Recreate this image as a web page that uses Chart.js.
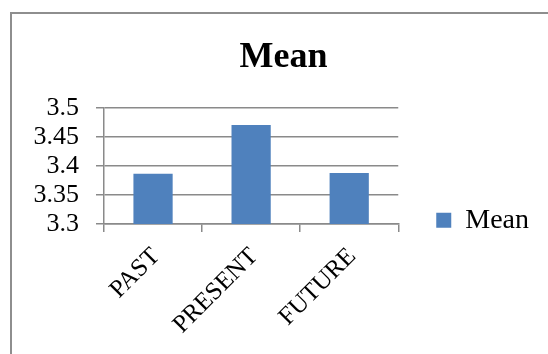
<!DOCTYPE html>
<html lang="en">
<head>
<meta charset="utf-8">
<title>Mean</title>
<script src="https://cdn.jsdelivr.net/npm/chart.js@4.4.1/dist/chart.umd.min.js"></script>
<style>
    html, body {
        margin: 0;
        padding: 0;
        width: 548px;
        height: 354px;
        overflow: hidden;
        background: #ffffff;
    }
    .chart-frame {
        position: absolute;
        left: 10px;
        top: 12px;
        width: 620px;
        height: 420px;
        border: 2px solid #8e8e8e;
    }
    .chart-box {
        position: absolute;
        left: 0;
        top: 0;
        width: 548px;
        height: 354px;
    }
</style>
</head>
<body>
<div class="chart-frame"></div>
<div class="chart-box">
    <canvas id="meanChart"></canvas>
</div>

<script>
// Data
const categories = ['PAST', 'PRESENT', 'FUTURE'];
const meanValues = [3.387, 3.471, 3.388];
const seriesName = 'Mean';
const yTickValues = [3.3, 3.35, 3.4, 3.45, 3.5];
const yTickLabels = ['3.3', '3.35', '3.4', '3.45', '3.5'];

const SERIF = "'Liberation Serif', 'Times New Roman', serif";
const BAR_BLUE = '#4f81bd';
const GRID_GREY = '#8a8a8a';

/**
 * The title sits over the plot + legend block, not over the whole canvas:
 * move it right a little once the layout is done.
 */
const titleShift = {
    id: 'titleShift',
    afterLayout(chart, args, opts) {
        const title = chart.titleBlock;
        if (!title) return;
        title.left += opts.dx;
        title.right += opts.dx;
    }
};

/**
 * Bar chart of the mean score per time period
 */
class MeanChart {
    constructor() {
        this.chart = null;
        this.init();
    }

    /**
     * Label of a y tick, taken from the tick label list
     */
    yLabel(value) {
        const i = yTickValues.findIndex(v => Math.abs(v - value) < 1e-6);
        return i >= 0 ? yTickLabels[i] : '';
    }

    init() {
        const chartElement = document.getElementById('meanChart');
        if (!chartElement) return;

        this.chart = new Chart(chartElement, {
            type: 'bar',
            data: {
                labels: categories,
                datasets: [{
                    label: seriesName,
                    data: meanValues,
                    backgroundColor: BAR_BLUE,
                    borderWidth: 0,
                    categoryPercentage: 1.0,
                    barPercentage: 0.4
                }]
            },
            plugins: [titleShift],
            options: {
                responsive: true,
                maintainAspectRatio: false,
                animation: false,
                layout: {
                    padding: { left: 0, right: 17, top: 0, bottom: 0 }
                },
                plugins: {
                    titleShift: { dx: 18 },
                    title: {
                        display: true,
                        text: 'Mean',
                        color: '#000000',
                        font: { family: SERIF, size: 36, weight: 'bold' },
                        padding: { top: 36, bottom: 29 }
                    },
                    legend: {
                        position: 'right',
                        align: 'center',
                        // empty title only pushes the entry down next to the axis
                        title: {
                            display: true,
                            text: '',
                            padding: { top: 72, bottom: 0 }
                        },
                        labels: {
                            color: '#000000',
                            font: { family: SERIF, size: 28 },
                            boxWidth: 15,
                            boxHeight: 15,
                            padding: 38
                        }
                    },
                    tooltip: { enabled: false }
                },
                scales: {
                    x: {
                        offset: true,
                        grid: {
                            display: true,
                            offset: true,
                            drawOnChartArea: false,
                            drawTicks: true,
                            tickLength: 8,
                            color: GRID_GREY,
                            lineWidth: 1.5
                        },
                        border: { display: true, color: GRID_GREY, width: 1.5 },
                        ticks: {
                            color: '#000000',
                            font: { family: SERIF, size: 25 },
                            minRotation: 45,
                            maxRotation: 45,
                            autoSkip: false,
                            padding: 10,
                            labelOffset: 3
                        },
                        afterFit: function(scale) {
                            scale.height = 130;
                        }
                    },
                    y: {
                        min: 3.3,
                        max: 3.5,
                        grid: {
                            color: GRID_GREY,
                            lineWidth: 1.5,
                            tickLength: 8
                        },
                        border: { display: true, color: GRID_GREY, width: 1.5 },
                        ticks: {
                            color: '#000000',
                            font: { family: SERIF, size: 26 },
                            padding: 17,
                            autoSkip: false,
                            callback: (value) => this.yLabel(value)
                        },
                        // keep every step, the labels are taller than the gap
                        afterBuildTicks: function(scale) {
                            scale.ticks = yTickValues.map(v => ({ value: v }));
                        },
                        afterFit: function(scale) {
                            scale.width = 104;
                        }
                    }
                }
            }
        });
    }
}

document.addEventListener('DOMContentLoaded', function() {
    if (typeof Chart !== 'undefined') {
        new MeanChart();
    } else {
        console.error('Chart.js is not loaded.');
    }
});
</script>
</body>
</html>
